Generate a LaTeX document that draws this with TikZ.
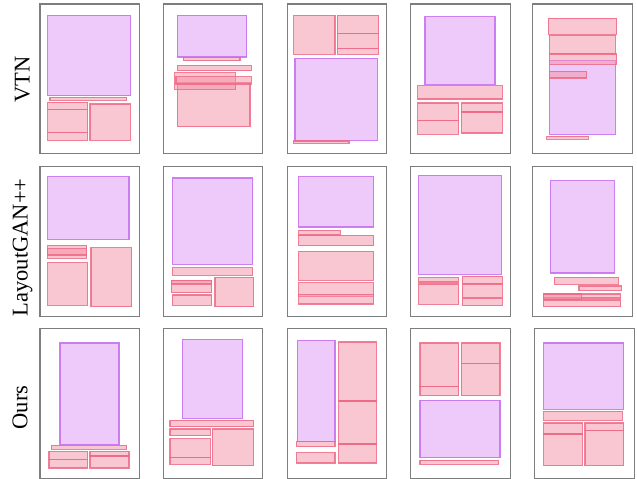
\documentclass[tikz,border=0pt]{standalone}
\usepackage{fontspec}
\setmainfont{Liberation Serif}
\usetikzlibrary{positioning}
\definecolor{framegray}{RGB}{125,125,125}
\definecolor{imgfill}{RGB}{220,150,245}
\definecolor{imgline}{RGB}{200,115,240}
\definecolor{txtfill}{RGB}{245,145,165}
\definecolor{txtline}{RGB}{238,105,135}
\begin{document}
\begin{tikzpicture}[
		x=1pt, y=-1pt,
		frame/.style={draw=framegray, line width=1.1pt, fill=white},
		elimg/.style={draw=imgline, line width=1.3pt, fill=imgfill, fill opacity=0.5, draw opacity=0.9},
		eltxt/.style={draw=txtline, line width=1.3pt, fill=txtfill, fill opacity=0.5, draw opacity=0.85},
		rowlabel/.style={rotate=90, anchor=base, inner sep=0pt, font=\fontsize{22.5}{26}\selectfont}
		]
		\useasboundingbox (0,0) rectangle (637,479);
		
		% Row labels
		\node[rowlabel] (vtn) at (29.5,79.2) {VTN};
		\node[rowlabel] (gan) at (27.5,247.5) {LayoutGAN++};
		\node[rowlabel] (ours) at (27.3,407.5) {Ours};
		
		% Frames
		\foreach \y in {4,166.7} {
			\foreach \x in {40,163.3,287.3,410.7,532.7} {
				\draw[frame] (\x,\y) rectangle ++(99.5,149.5);
			}
		}
		\foreach \x in {40,163.3,287.3,410.7,534.7} {
			\draw[frame] (\x,328.7) rectangle ++(99.5,149.5);
		}
		
		% VTN, layout 1
		\draw[elimg] (47.7,15.3) rectangle (130.3,95.7);
		\draw[eltxt] (50,97.3) rectangle (126.7,100.3);
		\draw[eltxt] (47.7,102.3) rectangle (87.7,109.3);
		\draw[eltxt] (47.7,109.3) rectangle (87.7,132.3);
		\draw[eltxt] (47.7,132.3) rectangle (87.7,140.3);
		\draw[eltxt] (90,104) rectangle (130.3,140.3);
		
		% VTN, layout 2
		\draw[elimg] (177.3,15.3) rectangle (246.7,57);
		\draw[eltxt] (183.3,57.3) rectangle (240,60.7);
		\draw[eltxt] (177.3,65.3) rectangle (251.3,70.7);
		\draw[eltxt] (177.3,82.7) rectangle (250,126.7);
		\draw[eltxt] (174.7,72.7) rectangle (235.3,89.3);
		\draw[eltxt] (176,76.7) rectangle (251.3,84);
		
		% VTN, layout 3
		\draw[eltxt] (293.7,15.3) rectangle (335,54.3);
		\draw[eltxt] (337.3,15.3) rectangle (378.7,33.3);
		\draw[eltxt] (337.3,33.3) rectangle (378.7,48.3);
		\draw[eltxt] (337.3,48.3) rectangle (378.7,54.3);
		\draw[elimg] (295,58.3) rectangle (377.3,140.3);
		\draw[eltxt] (293.3,141) rectangle (349,143.3);
		
		% VTN, layout 4
		\draw[elimg] (425,16.7) rectangle (495,84.3);
		\draw[eltxt] (417.7,85.7) rectangle (502.3,99);
		\draw[eltxt] (417.7,103) rectangle (458.7,120.3);
		\draw[eltxt] (417.7,120.3) rectangle (458.7,134.3);
		\draw[eltxt] (461.3,103) rectangle (502.3,112);
		\draw[eltxt] (461.3,112) rectangle (502.3,133);
		
		% VTN, layout 5
		\draw[eltxt] (548.3,18.3) rectangle (616.7,34.3);
		\draw[eltxt] (549.3,35.3) rectangle (615.3,53.3);
		\draw[elimg] (549.3,60.3) rectangle (615.3,134.3);
		\draw[eltxt] (549.3,54) rectangle (616.7,64.3);
		\draw[eltxt] (549.3,71.3) rectangle (586.7,78);
		\draw[eltxt] (546.7,136.3) rectangle (588.3,139.3);
		
		% LayoutGAN++, layout 1
		\draw[elimg] (47.7,176.7) rectangle (129,239.3);
		\draw[eltxt] (47.7,245.3) rectangle (86.7,258.3);
		\draw[eltxt] (47.7,248.7) rectangle (86.7,255);
		\draw[eltxt] (47.7,262.7) rectangle (87.7,305.3);
		\draw[eltxt] (91,247.7) rectangle (131.7,306.7);
		
		% LayoutGAN++, layout 2
		\draw[elimg] (172.3,178) rectangle (252.7,264.3);
		\draw[eltxt] (172.3,267.7) rectangle (252.7,275.3);
		\draw[eltxt] (171.3,280.3) rectangle (211.7,292.7);
		\draw[eltxt] (171.3,280.3) rectangle (211.7,284);
		\draw[eltxt] (172.3,295) rectangle (211.7,305.3);
		\draw[eltxt] (215,277.3) rectangle (253.7,306.7);
		
		% LayoutGAN++, layout 3
		\draw[elimg] (298.7,176.7) rectangle (373.7,227);
		\draw[eltxt] (298.7,230.3) rectangle (340.3,235);
		\draw[eltxt] (298.7,235.3) rectangle (373.7,245.7);
		\draw[eltxt] (298.7,251.3) rectangle (373.7,280.3);
		\draw[eltxt] (298.7,282.7) rectangle (373.7,296.7);
		\draw[eltxt] (298.7,294.3) rectangle (373.7,304);
		
		% LayoutGAN++, layout 4
		\draw[elimg] (418.7,175.3) rectangle (501.3,274.3);
		\draw[eltxt] (418.7,277.3) rectangle (458.7,282);
		\draw[eltxt] (418.7,284) rectangle (458.7,304.3);
		\draw[eltxt] (462.3,276.3) rectangle (502.3,283.3);
		\draw[eltxt] (462.3,284) rectangle (502.3,297.7);
		\draw[eltxt] (462.3,298.3) rectangle (502.3,305.7);
		
		% LayoutGAN++, layout 5
		\draw[elimg] (550.3,180.7) rectangle (614.3,273);
		\draw[eltxt] (554.3,277.3) rectangle (618.3,284.3);
		\draw[eltxt] (579,286) rectangle (621.7,290.7);
		\draw[eltxt] (543.3,294) rectangle (620.7,298);
		\draw[eltxt] (543.3,294) rectangle (581.7,299.7);
		\draw[eltxt] (543.3,300) rectangle (620.7,306.7);
		
		% Ours, layout 1
		\draw[elimg] (60,343) rectangle (119,444.7);
		\draw[eltxt] (51.3,445.3) rectangle (126.7,449.3);
		\draw[eltxt] (49,451.3) rectangle (87.7,459.3);
		\draw[eltxt] (49,459.3) rectangle (87.7,468);
		\draw[eltxt] (90,451.3) rectangle (129,456);
		\draw[eltxt] (90,456) rectangle (129,468);
		
		% Ours, layout 2
		\draw[elimg] (182.3,339.3) rectangle (242.7,418.3);
		\draw[eltxt] (170,420.3) rectangle (253.7,426.7);
		\draw[eltxt] (170,429) rectangle (210.3,435.7);
		\draw[eltxt] (170,438.7) rectangle (210.3,457.7);
		\draw[eltxt] (170,457.7) rectangle (210.3,464.3);
		\draw[eltxt] (212.3,429) rectangle (253.7,465.7);
		
		% Ours, layout 3
		\draw[elimg] (297.3,340.3) rectangle (335,441.7);
		\draw[eltxt] (296.3,441.7) rectangle (335,446.7);
		\draw[eltxt] (296.3,452.7) rectangle (335,463);
		\draw[eltxt] (338.7,342) rectangle (376.3,401);
		\draw[eltxt] (338.7,401) rectangle (376.3,444);
		\draw[eltxt] (338.7,444) rectangle (376.3,463);
		
		% Ours, layout 4
		\draw[eltxt] (420,343) rectangle (458.7,386.7);
		\draw[eltxt] (420,386.7) rectangle (458.7,395.7);
		\draw[eltxt] (461.3,343) rectangle (500,363.3);
		\draw[eltxt] (461.3,363.3) rectangle (500,395.7);
		\draw[elimg] (420,400.3) rectangle (500,457.7);
		\draw[eltxt] (420,460.3) rectangle (498.7,464.3);
		
		% Ours, layout 5
		\draw[elimg] (543.7,343) rectangle (623.7,409.3);
		\draw[eltxt] (543.7,411.3) rectangle (622.3,420.3);
		\draw[eltxt] (543.7,423) rectangle (582.3,434);
		\draw[eltxt] (543.7,434) rectangle (582.3,465.7);
		\draw[eltxt] (585,423) rectangle (623.7,430.3);
		\draw[eltxt] (585,430.3) rectangle (623.7,465.7);
		
	\end{tikzpicture}
\end{document}
